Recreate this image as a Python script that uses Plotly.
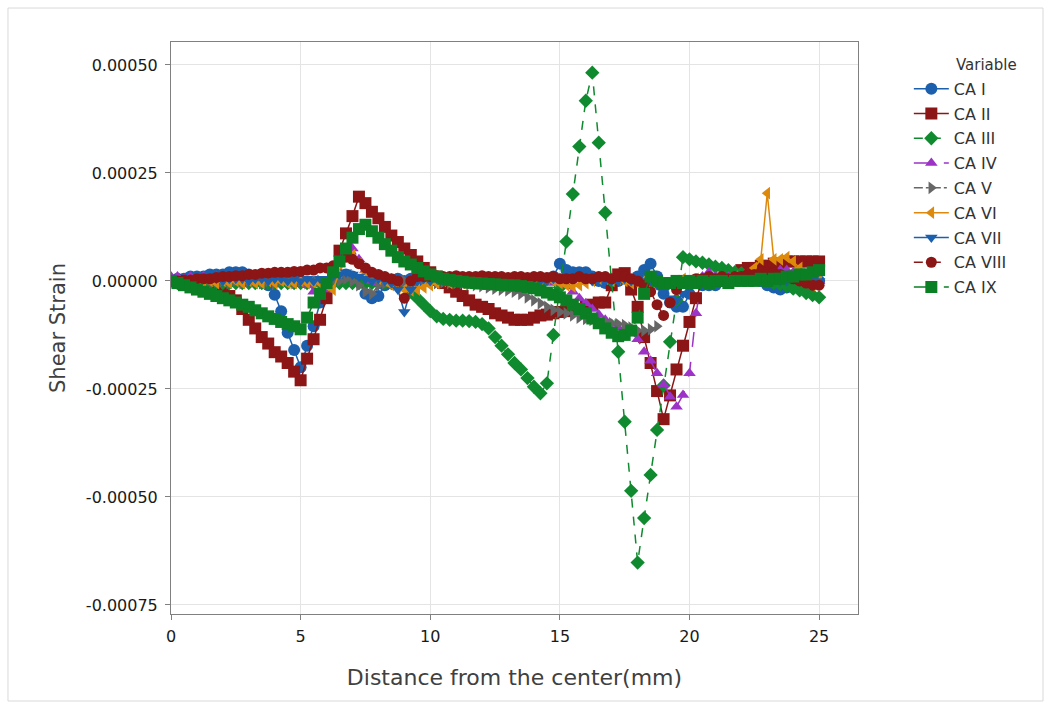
import plotly.graph_objects as go

# Shear strain values below are in units of 1e-4
UNIT = 1e-4

distance = [
    0.0, 0.25, 0.5, 0.75, 1.0, 1.25, 1.5, 1.75, 2.0, 2.25,
    2.5, 2.75, 3.0, 3.25, 3.5, 3.75, 4.0, 4.25, 4.5, 4.75,
    5.0, 5.25, 5.5, 5.75, 6.0, 6.25, 6.5, 6.75, 7.0, 7.25,
    7.5, 7.75, 8.0, 8.25, 8.5, 8.75, 9.0, 9.25, 9.5, 9.75,
    10.0, 10.25, 10.5, 10.75, 11.0, 11.25, 11.5, 11.75, 12.0, 12.25,
    12.5, 12.75, 13.0, 13.25, 13.5, 13.75, 14.0, 14.25, 14.5, 14.75,
    15.0, 15.25, 15.5, 15.75, 16.0, 16.25, 16.5, 16.75, 17.0, 17.25,
    17.5, 17.75, 18.0, 18.25, 18.5, 18.75, 19.0, 19.25, 19.5, 19.75,
    20.0, 20.25, 20.5, 20.75, 21.0, 21.25, 21.5, 21.75, 22.0, 22.25,
    22.5, 22.75, 23.0, 23.25, 23.5, 23.75, 24.0, 24.25, 24.5, 24.75,
    25.0,
]

ca_1 = [
    0.0, 0.05, 0.05, 0.1, 0.1, 0.1, 0.15, 0.15, 0.15, 0.2,
    0.2, 0.2, 0.15, 0.1, 0.0, -0.1, -0.32, -0.7, -1.2, -1.6,
    -2.0, -1.5, -1.05, -0.5, -0.15, 0.05, 0.1, 0.15, 0.1, 0.0,
    -0.3, -0.4, -0.35, -0.1, 0.0, 0.05, 0.0, 0.05, 0.0, 0.05,
    0.0, 0.05, 0.0, 0.0, 0.05, 0.0, 0.05, 0.0, 0.0, 0.05,
    0.0, 0.05, 0.0, 0.05, 0.0, 0.0, 0.05, 0.0, 0.05, 0.1,
    0.4, 0.25, 0.2, 0.2, 0.2, 0.1, 0.0, -0.05, 0.0, 0.0,
    0.05, 0.0, 0.1, 0.25, 0.4, 0.1, -0.3, -0.5, -0.6, -0.6,
    -0.3, -0.05, -0.1, -0.1, -0.1, 0.0, 0.05, 0.1, 0.2, 0.25,
    0.1, 0.0, -0.1, -0.15, -0.2, -0.15, -0.1, -0.05, 0.0, 0.0,
    0.0,
]

ca_2 = [
    0.0, 0.0, -0.05, -0.05, -0.05, -0.05, -0.1, -0.2, -0.25, -0.35,
    -0.45, -0.65, -0.9, -1.1, -1.3, -1.45, -1.65, -1.75, -1.9, -2.1,
    -2.3, -1.8, -1.35, -0.9, -0.4, 0.15, 0.7, 1.1, 1.5, 1.95,
    1.8, 1.6, 1.45, 1.25, 1.05, 0.9, 0.75, 0.6, 0.45, 0.3,
    0.2, 0.1, -0.05, -0.15, -0.25, -0.35, -0.45, -0.55, -0.6, -0.65,
    -0.75, -0.8, -0.85, -0.9, -0.9, -0.9, -0.85, -0.8, -0.78, -0.75,
    -0.72, -0.7, -0.68, -0.65, -0.6, -0.55, -0.5, -0.5, -0.1, 0.15,
    0.18, -0.2, -0.6, -1.3, -1.9, -2.55, -3.2, -2.65, -2.05, -1.5,
    -0.95, -0.4, 0.0, 0.0, 0.05, 0.05, 0.1, 0.15, 0.25, 0.3,
    0.3, 0.35, 0.35, 0.4, 0.4, 0.45, 0.45, 0.45, 0.45, 0.45,
    0.45,
]

ca_3 = [
    0.0, -0.05, -0.05, -0.05, -0.05, -0.05, -0.05, -0.05, -0.05, -0.05,
    -0.05, -0.05, -0.05, -0.05, -0.05, -0.05, -0.05, -0.05, -0.05, -0.05,
    -0.05, -0.05, -0.05, -0.05, -0.05, -0.05, -0.05, -0.05, -0.05, -0.05,
    -0.05, -0.05, -0.05, -0.05, -0.05, -0.05, -0.1, -0.25, -0.4, -0.55,
    -0.7, -0.82, -0.88, -0.9, -0.92, -0.92, -0.93, -0.95, -1.0, -1.1,
    -1.3, -1.5, -1.7, -1.9, -2.05, -2.25, -2.45, -2.6, -2.37, -1.25,
    -0.15, 0.91, 2.01, 3.11, 4.17, 4.82, 3.2, 1.58, 0.0, -1.64,
    -3.26, -4.86, -6.52, -5.49, -4.49, -3.45, -2.42, -1.41, -0.44, 0.55,
    0.5, 0.45, 0.42, 0.38, 0.33, 0.3, 0.25, 0.2, 0.18, 0.12,
    0.1, 0.05, 0.0, -0.05, -0.08, -0.12, -0.18, -0.22, -0.28, -0.33,
    -0.38,
]

ca_4 = [
    0.1, 0.1, 0.05, 0.1, 0.05, 0.1, 0.05, 0.1, 0.1, 0.05,
    0.1, 0.05, 0.1, 0.05, 0.1, 0.05, 0.1, 0.05, 0.05, 0.0,
    -0.05, -0.1, -0.25, -0.35, -0.2, 0.1, 0.4, 0.65, 0.75, 0.5,
    0.25, 0.0, -0.05, 0.0, 0.05, 0.0, -0.05, 0.0, 0.05, 0.0,
    0.0, 0.05, 0.0, 0.05, 0.0, 0.05, 0.0, 0.05, 0.0, 0.05,
    0.0, 0.05, 0.0, 0.0, 0.05, 0.0, 0.0, 0.05, 0.0, -0.05,
    -0.05, -0.1, -0.25, -0.4, -0.52, -0.65, -0.78, -0.9, -1.0, -1.08,
    -1.15, -1.2, -1.35, -1.64, -1.85, -2.14, -2.4, -2.68, -2.91, -2.64,
    -2.14, -0.75, 0.1, 0.2, 0.1, 0.05, 0.1, 0.05, 0.1, 0.15,
    0.1, 0.15, 0.2, 0.2, 0.25, 0.25, 0.2, 0.15, 0.1, 0.05,
    0.0,
]

ca_5 = [
    0.0, 0.0, -0.05, 0.0, -0.05, 0.0, -0.05, 0.0, 0.0, -0.05,
    0.0, -0.05, 0.0, 0.0, -0.05, 0.0, -0.05, 0.0, 0.0, -0.05,
    0.0, -0.05, -0.05, 0.0, -0.05, 0.0, 0.0, 0.05, 0.0, -0.1,
    -0.25, -0.3, -0.1, -0.05, 0.0, -0.05, 0.0, -0.05, 0.0, -0.05,
    0.0, -0.05, -0.03, -0.05, -0.05, -0.05, -0.08, -0.1, -0.12, -0.15,
    -0.18, -0.2, -0.22, -0.25, -0.3, -0.38, -0.45, -0.52, -0.6, -0.67,
    -0.72, -0.75, -0.8, -0.85, -0.88, -0.9, -0.93, -0.95, -0.98, -1.0,
    -1.02, -1.08, -1.15, -1.15, -1.12, -1.05, None, None, None, None,
    None, None, None, None, None, None, None, None, None, None,
    None, None, None, None, None, None, None, None, None, None,
    None,
]

ca_6 = [
    0.0, -0.05, -0.05, 0.0, -0.05, -0.05, 0.0, -0.05, 0.0, -0.05,
    0.0, -0.05, 0.0, -0.05, -0.05, 0.0, -0.05, 0.0, -0.05, -0.05,
    0.0, -0.05, -0.05, -0.05, -0.1, -0.2, 0.2, 0.55, 0.6, 0.4,
    0.2, 0.1, 0.05, 0.0, -0.1, -0.15, -0.2, -0.22, -0.2, -0.15,
    -0.1, -0.05, 0.0, -0.05, 0.0, -0.05, 0.0, 0.05, 0.0, 0.05,
    0.05, 0.0, 0.05, 0.0, 0.05, 0.0, -0.05, 0.0, 0.05, 0.0,
    -0.05, -0.1, -0.13, -0.1, -0.05, 0.0, 0.05, 0.05, 0.0, 0.05,
    0.0, -0.05, -0.05, 0.0, -0.05, -0.1, -0.1, -0.05, 0.0, 0.05,
    0.0, 0.05, 0.0, 0.05, 0.05, 0.0, 0.05, 0.1, 0.05, 0.1,
    0.3, 0.5, 2.03, 0.5, 0.5, 0.55, 0.45, 0.3, 0.1, -0.1,
    0.0,
]

ca_7 = [
    0.05, 0.0, 0.05, 0.05, 0.0, 0.05, 0.05, 0.05, 0.0, 0.05,
    0.05, 0.05, 0.0, 0.05, 0.05, 0.0, 0.05, 0.05, 0.0, 0.05,
    0.0, 0.05, 0.0, 0.05, 0.05, 0.1, 0.15, 0.2, 0.15, 0.1,
    0.05, 0.0, 0.05, 0.0, -0.05, -0.2, -0.72, -0.2, 0.0, 0.05,
    0.0, 0.05, 0.0, 0.0, 0.05, 0.0, 0.0, 0.05, 0.0, 0.0,
    0.05, 0.0, 0.0, 0.05, 0.0, 0.0, 0.05, 0.0, 0.0, 0.05,
    0.1, 0.05, 0.05, 0.1, 0.05, 0.0, 0.05, 0.0, 0.0, 0.0,
    0.05, 0.0, 0.05, 0.0, 0.0, -0.1, -0.25, -0.4, -0.45, -0.3,
    -0.1, 0.0, 0.0, 0.05, 0.0, 0.05, 0.0, 0.05, 0.0, 0.05,
    0.0, 0.05, 0.0, 0.05, 0.0, 0.0, 0.05, 0.0, 0.0, 0.0,
    0.0,
]

ca_8 = [
    0.0, 0.0, 0.02, 0.02, 0.05, 0.05, 0.05, 0.08, 0.1, 0.1,
    0.12, 0.12, 0.15, 0.15, 0.18, 0.18, 0.2, 0.2, 0.2, 0.22,
    0.22, 0.25, 0.25, 0.3, 0.3, 0.35, 0.45, 0.55, 0.5, 0.4,
    0.3, 0.2, 0.15, 0.1, 0.05, 0.0, -0.4, 0.0, 0.1, 0.1,
    0.1, 0.12, 0.1, 0.1, 0.12, 0.1, 0.1, 0.1, 0.12, 0.1,
    0.1, 0.1, 0.08, 0.1, 0.1, 0.08, 0.1, 0.1, 0.08, 0.1,
    0.05, 0.05, 0.05, 0.1, 0.05, 0.05, 0.1, 0.1, 0.05, 0.1,
    0.1, 0.05, 0.0, -0.1, -0.25, -0.55, -0.8, -0.5, -0.2, -0.05,
    0.0, 0.05, 0.05, 0.1, 0.05, 0.1, 0.05, 0.1, 0.1, 0.15,
    0.15, 0.2, 0.2, 0.2, 0.15, 0.1, 0.05, 0.0, -0.05, -0.1,
    -0.1,
]

ca_9 = [
    0.0, -0.05, -0.1, -0.15, -0.2, -0.25, -0.3, -0.35, -0.4, -0.45,
    -0.5, -0.55, -0.6, -0.68, -0.75, -0.82, -0.88, -0.95, -1.0, -1.05,
    -1.12, -0.85, -0.5, -0.3, -0.05, 0.2, 0.45, 0.75, 1.0, 1.2,
    1.3, 1.15, 1.0, 0.85, 0.7, 0.55, 0.45, 0.38, 0.3, 0.22,
    0.15, 0.1, 0.05, 0.02, 0.0, -0.02, -0.04, -0.05, -0.06, -0.07,
    -0.08, -0.09, -0.1, -0.1, -0.12, -0.14, -0.17, -0.22, -0.27, -0.32,
    -0.38, -0.45, -0.55, -0.65, -0.75, -0.87, -0.98, -1.1, -1.2, -1.28,
    -1.25, -1.15, -0.85, -0.3, 0.1, 0.0, -0.05, -0.05, 0.0, -0.05,
    0.0, -0.05, 0.0, -0.05, 0.0, 0.0, -0.05, 0.0, 0.0, 0.0,
    0.0, 0.05, 0.0, 0.05, 0.05, 0.1, 0.1, 0.15, 0.15, 0.2,
    0.25,
]

series_names = ["CA I", "CA II", "CA III", "CA IV", "CA V", "CA VI", "CA VII", "CA VIII", "CA IX"]
series_values = [ca_1, ca_2, ca_3, ca_4, ca_5, ca_6, ca_7, ca_8, ca_9]

y_tick_values = [0.0005, 0.00025, 0.0, -0.00025, -0.0005, -0.00075]
y_tick_labels = ["0.00050", "0.00025", "0.00000", "-0.00025", "-0.00050", "-0.00075"]
x_tick_values = [0, 5, 10, 15, 20, 25]

styles = [
    dict(color="#1b5fad", symbol="circle", dash="solid", size=12),
    dict(color="#8c1515", symbol="square", dash="solid", size=12),
    dict(color="#0f8a2e", symbol="diamond", dash="dash", size=11),
    dict(color="#9c33c6", symbol="triangle-up", dash="longdash", size=11),
    dict(color="#666666", symbol="triangle-right", dash="dashdot", size=11),
    dict(color="#dd8a0c", symbol="triangle-left", dash="solid", size=11),
    dict(color="#1b5fad", symbol="triangle-down", dash="solid", size=11),
    dict(color="#8c1515", symbol="circle", dash="dash", size=11),
    dict(color="#0b7f24", symbol="square", dash="longdash", size=12),
]

FONT = "DejaVu Sans"

fig = go.Figure()
for i, (name, vals) in enumerate(zip(series_names, series_values)):
    st = styles[i]
    yv = [None if v is None else v * UNIT for v in vals]
    fig.add_trace(go.Scatter(
        x=distance, y=yv, name=name, mode="lines+markers",
        legendgroup=name,
        line=dict(color=st["color"], width=1.5, dash=st["dash"]),
        marker=dict(color=st["color"], symbol=st["symbol"], size=st["size"], line=dict(width=0)),
        connectgaps=False,
    ))

fig.update_layout(
    width=1052, height=708, autosize=False,
    margin=dict(l=171, r=194, t=42, b=94),
    paper_bgcolor="white", plot_bgcolor="white",
    font=dict(family=FONT, color="#1a1a1a"),
    legend=dict(
        x=1.074, y=0.948, xanchor="left", yanchor="top",
        font=dict(family=FONT, size=16, color="#333333"),
        tracegroupgap=1, itemwidth=35, bgcolor="rgba(0,0,0,0)",
    ),
    annotations=[dict(
        text="Variable", xref="paper", yref="paper", x=1.1397, y=0.9598,
        xanchor="left", yanchor="middle", showarrow=False,
        font=dict(family=FONT, size=15, color="#333333"),
    )],
    xaxis=dict(
        range=[0, 26.5], tickmode="array", tickvals=x_tick_values,
        showgrid=True, gridcolor="#e4e4e4", gridwidth=1, zeroline=False,
        showline=True, linecolor="#808080", linewidth=1, mirror=True,
        ticks="outside", ticklen=5, tickcolor="#808080", ticklabelstandoff=3,
        tickfont=dict(family=FONT, size=16, color="#1a1a1a"),
        title=dict(text="Distance from the center(mm)", standoff=24,
                   font=dict(family=FONT, size=22, color="#404040")),
    ),
    yaxis=dict(
        range=[-0.000771, 0.000553], tickmode="array",
        tickvals=y_tick_values, ticktext=y_tick_labels,
        showgrid=True, gridcolor="#e4e4e4", gridwidth=1, zeroline=False,
        showline=True, linecolor="#808080", linewidth=1, mirror=True,
        ticks="outside", ticklen=5, tickcolor="#808080", ticklabelstandoff=4,
        tickfont=dict(family=FONT, size=16, color="#1a1a1a"),
        title=dict(text="Shear Strain", standoff=14,
                   font=dict(family=FONT, size=21, color="#404040")),
    ),
    shapes=[dict(type="rect", xref="paper", yref="paper",
                 x0=-0.2373, x1=1.2693, y0=-0.1521, y1=1.0594,
                 line=dict(color="#d9d9d9", width=1), fillcolor="rgba(0,0,0,0)", layer="below")],
)

fig.write_html("out.html")
